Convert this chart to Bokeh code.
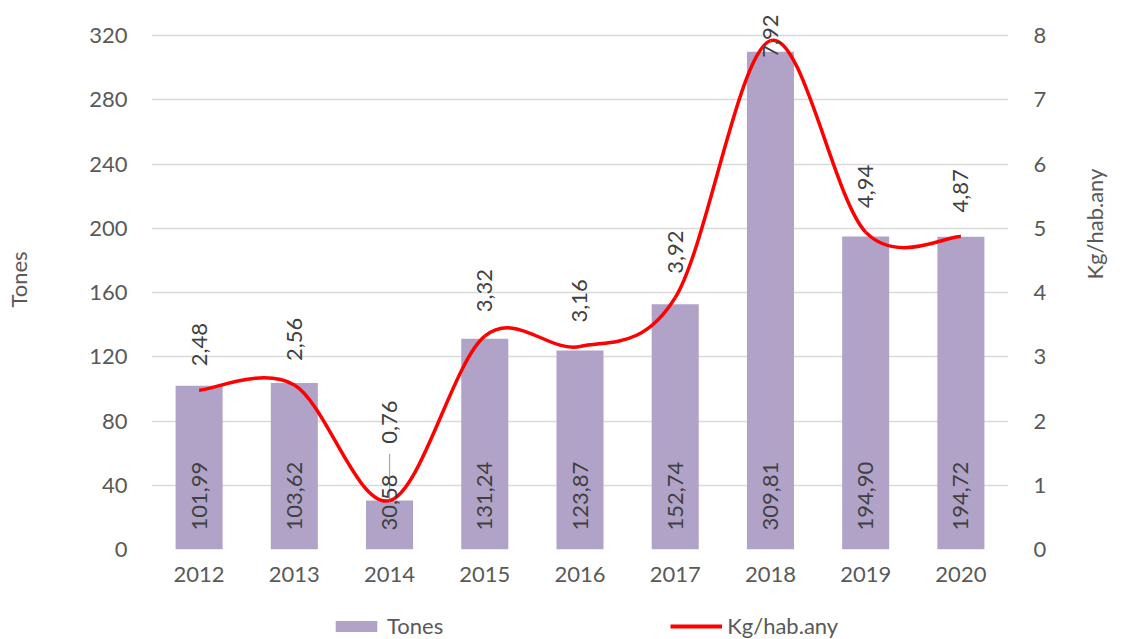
import math
from bokeh.plotting import figure
from bokeh.layouts import column
from bokeh.models import (Range1d, LinearAxis, FixedTicker, ColumnDataSource,
                          Legend, LegendItem, LabelSet)
from bokeh.core.properties import value
from bokeh.embed import file_html
from bokeh.resources import INLINE

# ---------------- data ----------------
years = ["2012", "2013", "2014", "2015", "2016", "2017", "2018", "2019", "2020"]
tones = [101.99, 103.62, 30.58, 131.24, 123.87, 152.74, 309.81, 194.90, 194.72]
kg_hab = [2.48, 2.56, 0.76, 3.32, 3.16, 3.92, 7.92, 4.94, 4.87]
tones_ticks = [0, 40, 80, 120, 160, 200, 240, 280, 320]
kg_ticks = [0, 1, 2, 3, 4, 5, 6, 7, 8]
series_names = ["Tones", "Kg/hab.any"]

# ---------------- style ----------------
FONT = "Lato"
FS = "22px"
TICK_COL = "#595959"
LAB_COL = "#404040"
BAR_COL = "#B1A3C8"
LINE_COL = "#FF0000"
GRID_COL = "#D9D9D9"

W = 1124
H_MAIN, H_LEG = 602, 37
FL, FR, FB = 151, 1012, 549
GRID_TOP = 35            # pixel row of the top gridline
HEADROOM = 26            # px of room above the top gridline for labels
FT = GRID_TOP - HEADROOM
grid_h = FB - GRID_TOP
px_per_kg = grid_h / (kg_ticks[-1] - kg_ticks[0])
stretch = (grid_h + HEADROOM) / grid_h
label_lift = {"2014": 57}   # manually moved label (with leader line)

def fmt(v):
    return f"{v:.2f}".replace(".", ",")

n = len(years)
idx = list(range(n))

p = figure(width=W, height=H_MAIN, x_range=Range1d(-0.5, n - 0.5),
           y_range=Range1d(tones_ticks[0], tones_ticks[-1] * stretch),
           output_backend="svg", toolbar_location=None,
           min_border_left=FL, min_border_right=W - FR,
           min_border_top=FT, min_border_bottom=H_MAIN - FB)
p.outline_line_color = None
p.background_fill_color = "white"
p.border_fill_color = "white"

p.extra_y_ranges = {"kg": Range1d(kg_ticks[0], kg_ticks[-1] * stretch)}

# axes
def style_axis(ax):
    ax.axis_line_color = None
    ax.major_tick_line_color = None
    ax.minor_tick_line_color = None
    ax.major_tick_out = 0
    ax.major_tick_in = 0
    ax.major_label_text_font = FONT
    ax.major_label_text_font_size = FS
    ax.major_label_text_color = TICK_COL
    ax.axis_label_text_font = FONT
    ax.axis_label_text_font_size = FS
    ax.axis_label_text_color = TICK_COL
    ax.axis_label_text_font_style = "normal"

xa = p.xaxis[0]
style_axis(xa)
xa.ticker = FixedTicker(ticks=idx)
xa.major_label_overrides = {i: y for i, y in zip(idx, years)}
xa.major_label_standoff = 17

ya = p.yaxis[0]
style_axis(ya)
ya.ticker = FixedTicker(ticks=tones_ticks)
ya.axis_label = series_names[0]
ya.major_label_standoff = 24
ya.axis_label_standoff = 54

ra = LinearAxis(y_range_name="kg", ticker=FixedTicker(ticks=kg_ticks),
                axis_label=series_names[1])
style_axis(ra)
ra.major_label_standoff = 25
ra.axis_label_standoff = 45
ra.axis_label_text_line_height = 0.8
ra.axis_label_orientation = math.pi / 2
p.add_layout(ra, "right")

p.xgrid.grid_line_color = None
p.ygrid.ticker = FixedTicker(ticks=tones_ticks)
p.ygrid.grid_line_color = GRID_COL
p.ygrid.grid_line_width = 1.3

# bars
src = ColumnDataSource(dict(x=idx, tones=tones, kg=kg_hab,
                            tlab=[fmt(v) for v in tones],
                            klab=[fmt(v) for v in kg_hab]))
p.vbar(x="x", top="tones", width=0.494, source=src,
       fill_color=BAR_COL, line_color=None)

# bar labels (inside base, rotated)
bar_labels = LabelSet(x="x", y=0, text="tlab", source=src, angle=math.pi / 2,
                      text_align="left", text_baseline="middle", y_offset=19,
                      text_font=value(FONT), text_font_size=FS, text_color=LAB_COL)
p.add_layout(bar_labels)

# smoothed line (Catmull-Rom -> cubic Bezier, like Excel smoothing)
pts = list(zip(idx, kg_hab))
x0, y0, x1, y1, cx0, cy0, cx1, cy1 = ([] for _ in range(8))
for i in range(n - 1):
    pm = pts[i - 1] if i > 0 else pts[i]
    pa, pb = pts[i], pts[i + 1]
    pn = pts[i + 2] if i + 2 < n else pts[i + 1]
    x0.append(pa[0]); y0.append(pa[1]); x1.append(pb[0]); y1.append(pb[1])
    cx0.append(pa[0] + (pb[0] - pm[0]) / 6); cy0.append(pa[1] + (pb[1] - pm[1]) / 6)
    cx1.append(pb[0] - (pn[0] - pa[0]) / 6); cy1.append(pb[1] - (pn[1] - pa[1]) / 6)

# leader lines for moved labels
for yr, lift in label_lift.items():
    i = years.index(yr)
    p.segment(x0=[idx[i]], y0=[kg_hab[i]], x1=[idx[i]],
              y1=[kg_hab[i] + (lift - 10) / px_per_kg],
              y_range_name="kg", line_color="#A6A6A6", line_width=1.2)

p.bezier(x0=x0, y0=y0, x1=x1, y1=y1, cx0=cx0, cy0=cy0, cx1=cx1, cy1=cy1,
         y_range_name="kg", line_color=LINE_COL, line_width=3.5)

# line labels (above, rotated), clamped at top of chart area
char_w = 11.3
offs = []
for yr, v, s in zip(years, kg_hab, [fmt(v) for v in kg_hab]):
    off = label_lift.get(yr, 24)
    top_room = (kg_ticks[-1] - v) * px_per_kg + 23   # px from point to allowed top
    off = min(off, top_room - len(s) * char_w)
    offs.append(off)
src.data["koff"] = offs
line_labels = LabelSet(x="x", y="kg", text="klab", source=src, y_range_name="kg",
                       angle=math.pi / 2, text_align="left", text_baseline="middle",
                       y_offset="koff", text_font=value(FONT), text_font_size=FS,
                       text_color=LAB_COL)
p.add_layout(line_labels)

# ---------------- legend strip ----------------
pl = figure(width=W, height=H_LEG, x_range=Range1d(0, 1), y_range=Range1d(0, 1),
            output_backend="svg", toolbar_location=None,
            x_axis_location=None, y_axis_location=None,
            min_border_left=0, min_border_right=0, min_border_top=0,
            min_border_bottom=0)
pl.outline_line_color = None
pl.grid.visible = False
pl.border_fill_color = "white"
lg_bar = pl.vbar(x="x", top="tones", source=src, width=0.5,
                 fill_color=BAR_COL, line_color=None, visible=False)
lg_line = pl.line(x="x", y="kg", source=src, line_color=LINE_COL,
                  line_width=4, visible=False)
legend = Legend(items=[LegendItem(label=series_names[0], renderers=[lg_bar]),
                       LegendItem(label=series_names[1], renderers=[lg_line])],
                orientation="horizontal", location=(179, 0),
                glyph_width=52, glyph_height=14, label_standoff=5, spacing=227,
                padding=0, margin=0, border_line_alpha=0, background_fill_alpha=0,
                inactive_fill_alpha=0,
                label_text_font=FONT, label_text_font_size=FS,
                label_text_color=TICK_COL)
pl.add_layout(legend)

layout = column(p, pl, spacing=0)
open("out.html", "w").write(file_html(layout, INLINE))
